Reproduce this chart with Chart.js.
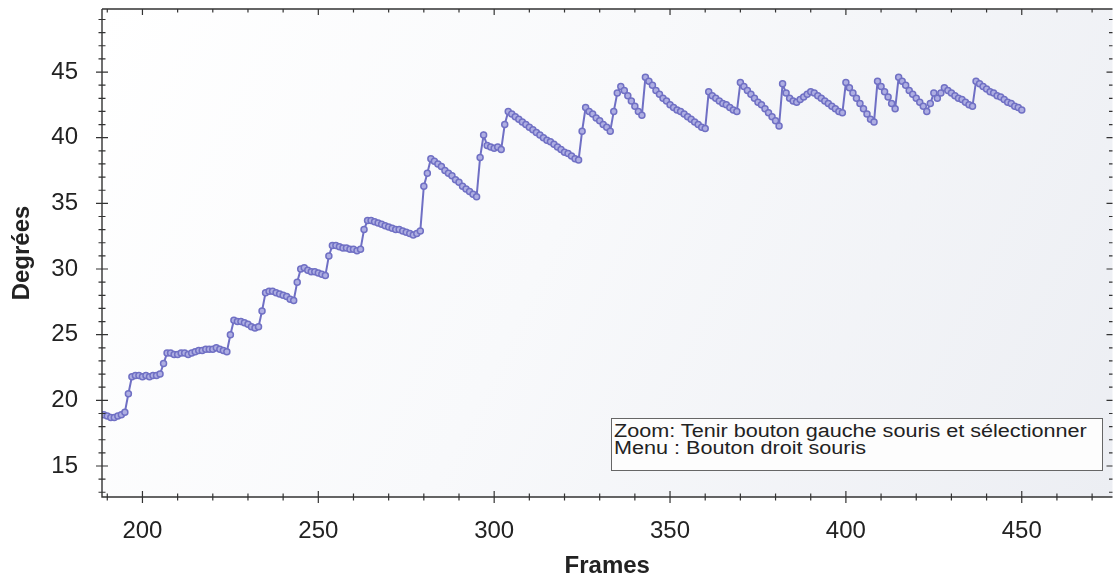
<!DOCTYPE html>
<html lang="fr">
<head>
    <meta charset="UTF-8">
    <title>Degrées / Frames</title>
    <script src="https://cdn.jsdelivr.net/npm/chart.js"></script>
    <style>
        body {
            margin: 0;
            padding: 0;
            background: #ffffff;
            font-family: "Liberation Sans", Arial, sans-serif;
        }
        .wrap {
            position: relative;
            width: 1118px;
            height: 583px;
        }
        .note {
            position: absolute;
            left: 611px;
            top: 418px;
            width: 490px;
            height: 51px;
            border: 1px solid #666;
            background: #fdfdfd;
            overflow: hidden;
        }
        .note-text {
            margin: 4px 0 0 2px;
            font-size: 18px;
            line-height: 17px;
            color: #222;
            white-space: nowrap;
            transform: scaleX(1.2);
            transform-origin: left top;
        }
    </style>
</head>
<body>
    <div class="wrap">
        <canvas id="chart" width="1118" height="583"></canvas>
        <div class="note">
            <div class="note-text">Zoom: Tenir bouton gauche souris et sélectionner<br>Menu : Bouton droit souris</div>
        </div>
    </div>

    <script>
        // first frame of the series, one value per frame after that
        const frameStart = 189;

        const degrees = [
            18.9, 18.8, 18.7, 18.7, 18.8, 18.9, 19.1, 20.5, 21.8, 21.9,
            21.9, 21.8, 21.9, 21.8, 21.9, 21.9, 22.0, 22.8, 23.6, 23.6,
            23.5, 23.5, 23.6, 23.6, 23.5, 23.6, 23.7, 23.8, 23.8, 23.9,
            23.9, 23.9, 24.0, 23.9, 23.8, 23.7, 25.0, 26.1, 26.0, 26.0,
            25.9, 25.8, 25.6, 25.5, 25.6, 26.8, 28.2, 28.3, 28.3, 28.2,
            28.1, 28.0, 27.9, 27.7, 27.6, 29.0, 30.0, 30.1, 29.9, 29.8,
            29.8, 29.7, 29.6, 29.5, 31.0, 31.8, 31.8, 31.7, 31.6, 31.6,
            31.5, 31.5, 31.4, 31.5, 33.0, 33.7, 33.7, 33.6, 33.5, 33.4,
            33.3, 33.2, 33.1, 33.0, 33.0, 32.9, 32.8, 32.7, 32.6, 32.7,
            32.9, 36.3, 37.3, 38.4, 38.2, 38.0, 37.8, 37.5, 37.3, 37.1,
            36.8, 36.6, 36.3, 36.1, 35.9, 35.7, 35.5, 38.5, 40.2, 39.4,
            39.3, 39.2, 39.3, 39.1, 41.0, 42.0, 41.8, 41.6, 41.4, 41.2,
            41.0, 40.8, 40.6, 40.4, 40.2, 40.0, 39.8, 39.7, 39.5, 39.3,
            39.1, 38.9, 38.8, 38.6, 38.4, 38.3, 40.5, 42.3, 42.0, 41.8,
            41.5, 41.3, 41.0, 40.8, 40.5, 42.0, 43.4, 43.9, 43.6, 43.2,
            42.8, 42.4, 42.0, 41.7, 44.6, 44.3, 44.0, 43.6, 43.3, 43.0,
            42.8, 42.5, 42.3, 42.1, 42.0, 41.8, 41.6, 41.4, 41.2, 41.0,
            40.8, 40.7, 43.5, 43.2, 43.0, 42.8, 42.6, 42.5, 42.3, 42.1,
            42.0, 44.2, 43.9, 43.6, 43.3, 43.0, 42.7, 42.5, 42.2, 41.9,
            41.6, 41.3, 40.9, 44.1, 43.4, 43.0, 42.8, 42.7, 42.9, 43.1,
            43.3, 43.5, 43.4, 43.2, 43.0, 42.8, 42.6, 42.4, 42.2, 42.0,
            41.9, 44.2, 43.8, 43.4, 43.0, 42.6, 42.2, 41.8, 41.4, 41.2,
            44.3, 43.9, 43.5, 43.1, 42.6, 42.2, 44.6, 44.3, 44.0, 43.6,
            43.3, 43.0, 42.7, 42.4, 42.0, 42.6, 43.4, 43.0, 43.4, 43.8,
            43.6, 43.4, 43.2, 43.0, 42.9, 42.7, 42.5, 42.4, 44.3, 44.1,
            43.9, 43.7, 43.5, 43.4, 43.2, 43.1, 42.9, 42.7, 42.6, 42.4,
            42.3, 42.1
        ];

        const xTickValues = [200, 250, 300, 350, 400, 450];
        const yTickValues = [15, 20, 25, 30, 35, 40, 45];

        const points = degrees.map((v, i) => ({ x: frameStart + i, y: v }));

        // light scanned-paper tint behind the plot
        const plotBackground = {
            id: 'plotBackground',
            beforeDatasetsDraw(chart) {
                const { ctx, chartArea: a } = chart;
                const g = ctx.createLinearGradient(a.left, a.top, a.right, a.bottom);
                g.addColorStop(0, '#ffffff');
                g.addColorStop(0.45, '#f8f9fb');
                g.addColorStop(1, '#eceef3');
                ctx.save();
                ctx.fillStyle = g;
                ctx.fillRect(a.left, a.top, a.right - a.left, a.bottom - a.top);
                ctx.restore();
            }
        };

        // axis frame with major/minor ticks crossing the axis lines
        const axisFrame = {
            id: 'axisFrame',
            afterDraw(chart) {
                const { ctx, chartArea: a } = chart;
                const xs = chart.scales.x, ys = chart.scales.y;
                ctx.save();
                ctx.strokeStyle = '#333';
                ctx.lineWidth = 1.4;
                ctx.beginPath();
                ctx.moveTo(a.left, a.top);
                ctx.lineTo(a.left, a.bottom);
                ctx.lineTo(a.right, a.bottom);
                ctx.moveTo(a.left, a.top);
                ctx.lineTo(a.right, a.top);
                ctx.stroke();

                ctx.lineWidth = 1.2;
                ctx.beginPath();
                for (let v = 190; v <= 480; v += 10) {
                    const px = xs.getPixelForValue(v);
                    if (px > a.right) break;
                    const len = v % 50 === 0 ? 6 : 3.5;
                    ctx.moveTo(px, a.bottom - len);
                    ctx.lineTo(px, a.bottom + len);
                    ctx.moveTo(px, a.top);
                    ctx.lineTo(px, a.top + len);
                }
                for (let v = 13; v <= 49; v++) {
                    const py = ys.getPixelForValue(v);
                    const len = v % 5 === 0 ? 6 : 3.5;
                    ctx.moveTo(a.left - len, py);
                    ctx.lineTo(a.left + len, py);
                    ctx.moveTo(a.right - len, py);
                    ctx.lineTo(a.right, py);
                }
                ctx.stroke();
                ctx.restore();
            }
        };

        new Chart(document.getElementById('chart').getContext('2d'), {
            type: 'line',
            data: {
                datasets: [{
                    label: 'Degrées',
                    data: points,
                    borderColor: '#6f6fc4',
                    borderWidth: 2,
                    pointRadius: 3,
                    pointBorderWidth: 1.5,
                    pointBorderColor: '#7070c4',
                    pointBackgroundColor: '#aeaee2',
                    tension: 0
                }]
            },
            options: {
                responsive: false,
                animation: false,
                devicePixelRatio: 1,
                layout: {
                    padding: { top: 9, right: 2, left: 0, bottom: 0 }
                },
                plugins: {
                    legend: { display: false },
                    tooltip: { enabled: false }
                },
                scales: {
                    x: {
                        type: 'linear',
                        min: 188.5,
                        max: 475.8,
                        grid: { display: false, drawTicks: false },
                        border: { display: false },
                        ticks: {
                            includeBounds: false,
                            padding: 20,
                            color: '#222',
                            font: { family: 'Liberation Sans', size: 24 }
                        },
                        afterBuildTicks: s => { s.ticks = xTickValues.map(v => ({ value: v })); },
                        afterFit: s => { s.height = 86; s.paddingLeft = 0; s.paddingRight = 0; },
                        title: {
                            display: true,
                            text: 'Frames',
                            color: '#222',
                            padding: { top: 0, bottom: 2 },
                            font: { family: 'Liberation Sans', size: 24, weight: 'bold' }
                        }
                    },
                    y: {
                        min: 12.64,
                        max: 49.8,
                        grid: { display: false, drawTicks: false },
                        border: { display: false },
                        ticks: {
                            includeBounds: false,
                            padding: 24,
                            color: '#222',
                            font: { family: 'Liberation Sans', size: 24 }
                        },
                        afterBuildTicks: s => { s.ticks = yTickValues.map(v => ({ value: v })); },
                        afterFit: s => { s.width = 102; s.paddingTop = 0; s.paddingBottom = 0; },
                        title: {
                            display: true,
                            text: 'Degrées',
                            color: '#222',
                            padding: { top: 8, bottom: 0 },
                            font: { family: 'Liberation Sans', size: 24, weight: 'bold' }
                        }
                    }
                }
            },
            plugins: [plotBackground, axisFrame]
        });
    </script>
</body>
</html>
